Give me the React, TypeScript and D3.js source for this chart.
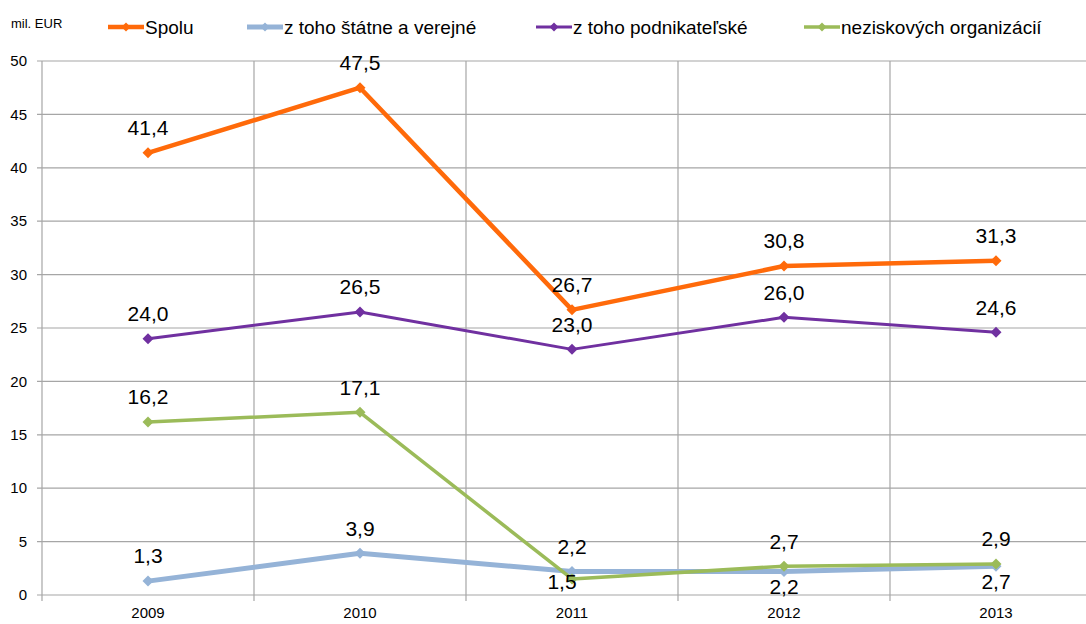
import React from "react";
import * as d3 from "d3";

const years = ["2009", "2010", "2011", "2012", "2013"];
const spolu = [41.4, 47.5, 26.7, 30.8, 31.3];
const statne = [1.3, 3.9, 2.2, 2.2, 2.7];
const podnikatelske = [24.0, 26.5, 23.0, 26.0, 24.6];
const neziskove = [16.2, 17.1, 1.5, 2.7, 2.9];
const yTicks = [0, 5, 10, 15, 20, 25, 30, 35, 40, 45, 50];

const series = [
  { name: "Spolu", values: spolu, color: "#FF6A0A", width: 4.5, legendX: 108 },
  { name: "z toho štátne a verejné", values: statne, color: "#95B3D7", width: 5, legendX: 247 },
  { name: "z toho podnikateľské", values: podnikatelske, color: "#7030A0", width: 3, legendX: 536 },
  { name: "neziskových organizácií", values: neziskove, color: "#9BBB59", width: 3.5, legendX: 804 },
];

// a few labels sit below the point instead of above it
const below: Record<string, { dx: number; dy: number }> = {
  "1-3": { dx: 0, dy: 15 },
  "1-4": { dx: 0, dy: 15 },
  "3-2": { dx: -10, dy: 3 },
};

const W = 1086;
const H = 624;
const left = 42;
const right = 1102;
const top = 61;
const bottom = 595;
const font = "'Liberation Sans', Arial, sans-serif";

const fmt = (v: number) => d3.format(".1f")(v).replace(".", ",");

export default function App() {
  const x = d3.scaleBand<string>().domain(years).range([left, right]);
  const y = d3.scaleLinear().domain([0, 50]).range([bottom, top]);
  const cx = (yr: string) => (x(yr) as number) + x.bandwidth() / 2;
  const line = d3
    .line<number>()
    .x((_, i) => cx(years[i]))
    .y((d) => y(d));
  const diamond = (s: number) => `M0,${-s}L${s},0L0,${s}L${-s},0Z`;
  const edges = years.map((yr) => x(yr) as number).concat([right]);

  return (
    <svg width={W} height={H} style={{ position: "absolute", left: 0, top: 0, background: "#fff" }} fontFamily={font}>
      {yTicks.map((t) => (
        <g key={t}>
          <line x1={left - 5} x2={right} y1={y(t)} y2={y(t)} stroke="#A6A6A6" strokeWidth={1.2} />
          <text x={27} y={y(t)} dy="0.35em" textAnchor="end" fontSize={15} fill="#000">
            {t}
          </text>
        </g>
      ))}
      {edges.map((e, i) => (
        <line key={i} x1={e} x2={e} y1={top} y2={bottom + 6} stroke="#A6A6A6" strokeWidth={1.2} />
      ))}
      {years.map((yr) => (
        <text key={yr} x={cx(yr)} y={613} dy="0.35em" textAnchor="middle" fontSize={15} fill="#000">
          {yr}
        </text>
      ))}
      <text x={11} y={23} dy="0.35em" fontSize={13} fill="#000">
        mil. EUR
      </text>

      {series.map((s) => (
        <g key={s.name}>
          <path d={line(s.values) || ""} fill="none" stroke={s.color} strokeWidth={s.width} strokeLinejoin="round" />
          {s.values.map((v, i) => (
            <path key={i} d={diamond(5.5)} transform={`translate(${cx(years[i])},${y(v)})`} fill={s.color} />
          ))}
        </g>
      ))}

      {series.map((s, si) =>
        s.values.map((v, i) => {
          const b = below[`${si}-${i}`];
          const px = cx(years[i]) + (b ? b.dx : 0);
          const py = y(v) + (b ? b.dy : -25);
          return (
            <text key={`${si}-${i}`} x={px} y={py} dy="0.35em" textAnchor="middle" fontSize={21} fill="#000">
              {fmt(v)}
            </text>
          );
        })
      )}

      {series.map((s) => (
        <g key={s.name} transform={`translate(${s.legendX},27)`}>
          <line x1={0} x2={36} y1={0} y2={0} stroke={s.color} strokeWidth={s.width} />
          <path d={diamond(4.5)} transform="translate(18,0)" fill={s.color} />
          <text x={37} y={0} dy="0.35em" fontSize={19} fill="#000">
            {s.name}
          </text>
        </g>
      ))}
    </svg>
  );
}
